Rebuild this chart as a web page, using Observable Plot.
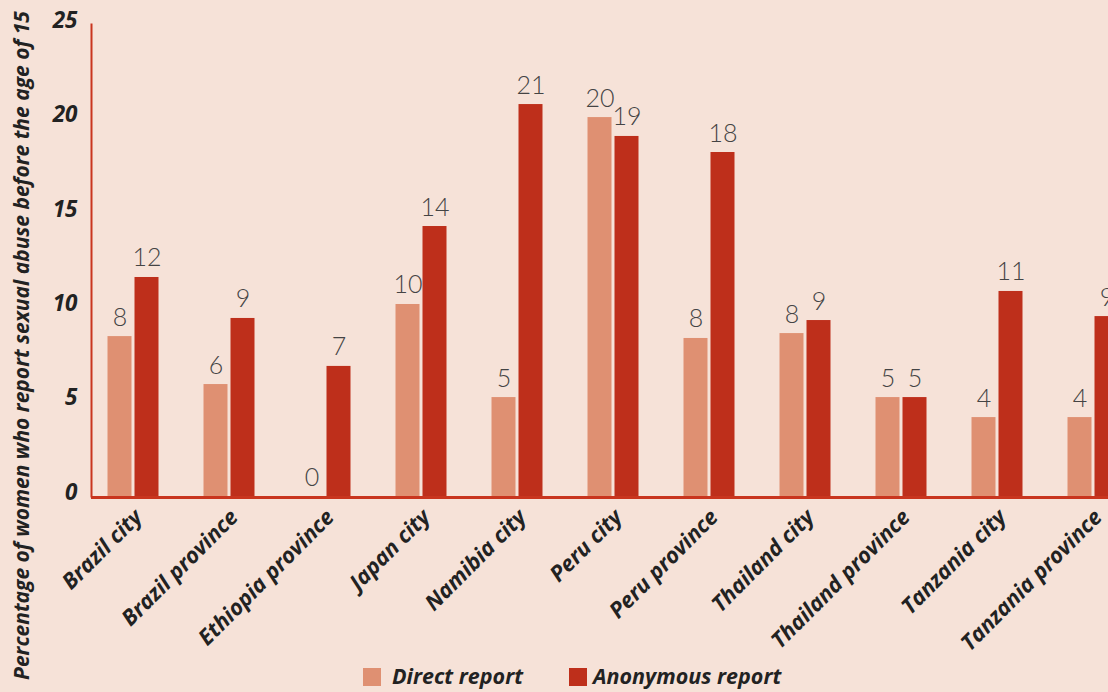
<!DOCTYPE html>
<html>
<head>
<meta charset="utf-8">
<script src="https://cdn.jsdelivr.net/npm/d3@7"></script>
<script src="https://cdn.jsdelivr.net/npm/@observablehq/plot@0.6"></script>
<style>
  html, body { margin: 0; padding: 0; background: #F6E2D8; overflow: hidden; }
  #wrap { position: relative; width: 1108px; height: 692px; }
  #legend { position: absolute; left: 0; top: 663px; width: 1108px; height: 26px;
            font-family: "Open Sans", Lato, sans-serif; font-style: italic; font-weight: 700;
            font-size: 21.5px; color: #222; }
  .sw { position: absolute; top: 5px; width: 18px; height: 18px; }
  .lt { position: absolute; top: 0; line-height: 26px; }
</style>
</head>
<body>
<div id="wrap">
  <div id="chart"></div>
  <div id="legend"></div>
</div>
<script>
const categories = ["Brazil city", "Brazil province", "Ethiopia province", "Japan city", "Namibia city", "Peru city", "Peru province", "Thailand city", "Thailand province", "Tanzania city", "Tanzania province"];
const directValues = [8.47, 5.93, 0, 10.17, 5.24, 20.07, 8.37, 8.63, 5.24, 4.18, 4.18];
const anonymousValues = [11.6, 9.43, 6.89, 14.3, 20.76, 19.07, 18.22, 9.32, 5.24, 10.86, 9.53];
const directLabels = [8, 6, 0, 10, 5, 20, 8, 8, 5, 4, 4];
const anonymousLabels = [12, 9, 7, 14, 21, 19, 18, 9, 5, 11, 9];
const yTicks = [0, 5, 10, 15, 20, 25];
const seriesNames = ["Direct report", "Anonymous report"];
const seriesColors = ["#DF9072", "#BE2F1B"];
const yTitle = "Percentage of women who report sexual abuse before the age of 15";

const direct = categories.map((c, i) => ({category: c, value: directValues[i], label: directLabels[i]}));
const anonymous = categories.map((c, i) => ({category: c, value: anonymousValues[i], label: anonymousLabels[i]}));

const boldFont = "'Open Sans', Lato, sans-serif";
const lightFont = "Lato, 'Open Sans', sans-serif";
const axisColor = "#C9351E";

const chart = Plot.plot({
  width: 1108,
  height: 692,
  marginLeft: 91,
  marginRight: 0,
  marginTop: 24,
  marginBottom: 196,
  style: {background: "transparent", fontFamily: boldFont, overflow: "hidden"},
  x: {domain: categories, range: [84.5, 1140.5], paddingInner: 0.75, paddingOuter: 0.375, align: 0.5},
  y: {domain: [0, 25]},
  marks: [
    Plot.barY(direct, {x: "category", y: "value", dx: -13.5, fill: seriesColors[0]}),
    Plot.barY(anonymous, {x: "category", y: "value", dx: 13.5, fill: seriesColors[1]}),
    Plot.text(direct, {x: "category", y: "value", text: "label", dx: -13.5, dy: -11, lineAnchor: "bottom",
      fontSize: 25, fontWeight: 300, fontFamily: lightFont, fill: "#444"}),
    Plot.text(anonymous, {x: "category", y: "value", text: "label", dx: 13.5, dy: -11, lineAnchor: "bottom",
      fontSize: 25, fontWeight: 300, fontFamily: lightFont, fill: "#444"}),
    Plot.ruleY([0], {stroke: axisColor, strokeWidth: 3, dy: 1}),
    Plot.frame({anchor: "left", stroke: axisColor, strokeWidth: 2}),
    Plot.axisY({ticks: yTicks, tickSize: 0, tickPadding: 14, label: null, fontSize: 22.5,
      fontWeight: 700, fontStyle: "italic", fill: "#222", dy: -4}),
    Plot.axisX({tickSize: 0, tickPadding: 17, tickRotate: -45, label: null, fontSize: 22,
      fontWeight: 700, fontStyle: "italic", fill: "#222", dx: 5}),
    Plot.text([yTitle], {frameAnchor: "left", rotate: -90, textAnchor: "middle", dx: -69, dy: 85, fontSize: 21,
      fontWeight: 700, fontStyle: "italic", fill: "#222"})
  ]
});
document.getElementById("chart").appendChild(chart);

const legend = document.getElementById("legend");
const swX = [363, 569];
const txX = [392, 593];
seriesNames.forEach((name, i) => {
  const s = document.createElement("div");
  s.className = "sw"; s.style.left = swX[i] + "px"; s.style.background = seriesColors[i];
  legend.appendChild(s);
  const t = document.createElement("div");
  t.className = "lt"; t.style.left = txX[i] + "px"; t.textContent = name;
  legend.appendChild(t);
});
</script>
</body>
</html>
